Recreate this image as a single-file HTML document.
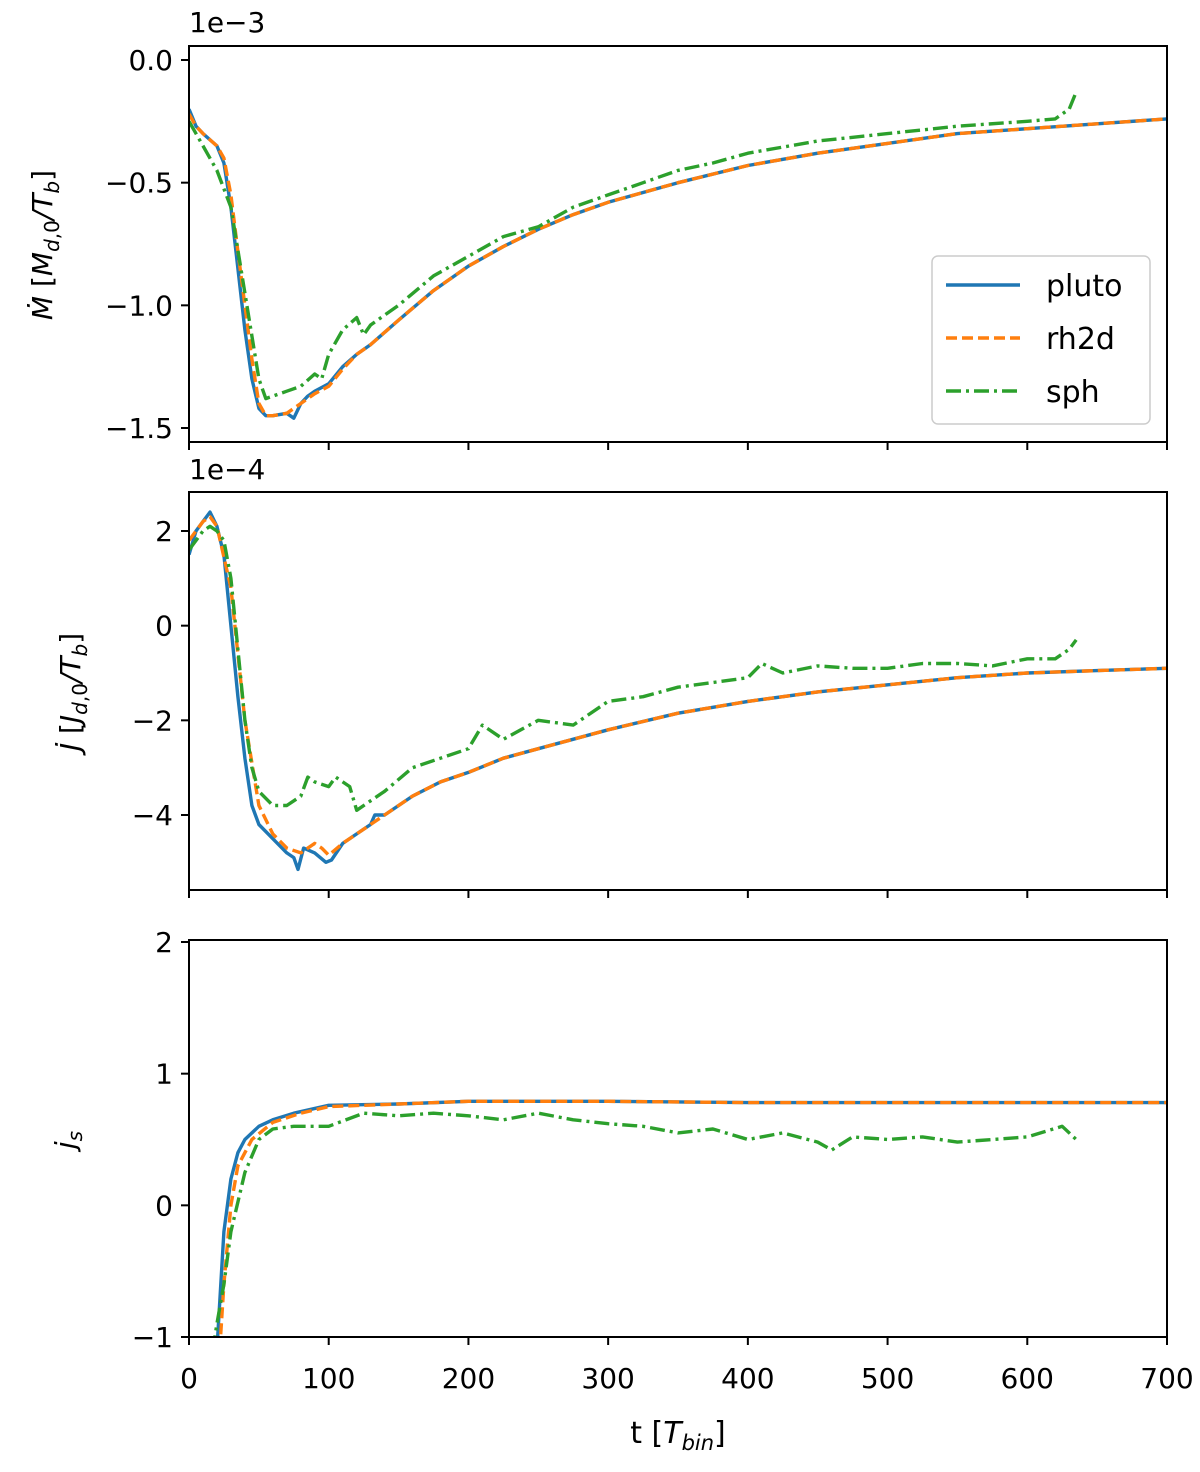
<!DOCTYPE html>
<html><head><meta charset="utf-8">
<style>
html,body{margin:0;padding:0;background:#fff;width:1200px;height:1472px;overflow:hidden;}
svg{display:block;font-family:"DejaVu Sans","Liberation Sans",sans-serif;}
</style></head>
<body>
<svg id="fig" width="1200" height="1472" viewBox="0 0 1200 1472" xmlns="http://www.w3.org/2000/svg">
 <text x="189" y="32" font-size="28">1e−3</text>
 <text x="189" y="479" font-size="28">1e−4</text>
 <text transform="translate(52,245) rotate(-90)" font-size="28" text-anchor="middle"><tspan font-style="italic">Ṁ</tspan> [<tspan font-style="italic">M</tspan><tspan font-size="20" dy="7"><tspan font-style="italic">d</tspan>,0</tspan><tspan dy="-7" font-style="italic">/T</tspan><tspan font-size="20" dy="7" font-style="italic">b</tspan><tspan dy="-7">]</tspan></text>
 <text transform="translate(80,692) rotate(-90)" font-size="28" text-anchor="middle"><tspan font-style="italic">J̇</tspan> [<tspan font-style="italic">J</tspan><tspan font-size="20" dy="7"><tspan font-style="italic">d</tspan>,0</tspan><tspan dy="-7" font-style="italic">/T</tspan><tspan font-size="20" dy="7" font-style="italic">b</tspan><tspan dy="-7">]</tspan></text>
 <text transform="translate(75,1140) rotate(-90)" font-size="28" text-anchor="middle"><tspan font-style="italic">j</tspan><tspan font-size="20" dy="7" font-style="italic">s</tspan></text>
 <text x="678" y="1443" font-size="30" text-anchor="middle">t [<tspan font-style="italic">T</tspan><tspan font-size="21" dy="7" font-style="italic">bin</tspan><tspan dy="-7">]</tspan></text>
</svg>
<script>
// ---- data ----
const p1PlutoT=[0,5,10,20,25,30,35,40,45,50,55,60,70,75,80,85,90,100,110,120,130,150,175,200,225,250,275,300,350,400,450,500,550,600,650,700];
const p1PlutoV=[-0.2,-0.27,-0.3,-0.35,-0.42,-0.6,-0.85,-1.1,-1.3,-1.42,-1.45,-1.45,-1.44,-1.46,-1.4,-1.37,-1.35,-1.32,-1.25,-1.2,-1.16,-1.06,-0.94,-0.84,-0.76,-0.69,-0.63,-0.58,-0.5,-0.43,-0.38,-0.34,-0.3,-0.28,-0.26,-0.24];
const p1Rh2dT=[0,5,10,20,25,30,35,40,45,50,55,60,70,80,90,100,110,120,130,150,175,200,225,250,275,300,350,400,450,500,550,600,650,700];
const p1Rh2dV=[-0.22,-0.27,-0.3,-0.35,-0.4,-0.55,-0.78,-1.0,-1.22,-1.4,-1.45,-1.45,-1.44,-1.4,-1.36,-1.33,-1.26,-1.2,-1.16,-1.06,-0.94,-0.84,-0.76,-0.69,-0.63,-0.58,-0.5,-0.43,-0.38,-0.34,-0.3,-0.28,-0.26,-0.24];
const p1SphT=[0,10,20,30,40,50,55,60,70,80,90,95,100,110,120,125,130,150,175,200,225,250,275,300,325,350,375,400,450,500,550,600,620,630,635];
const p1SphV=[-0.25,-0.35,-0.45,-0.6,-0.95,-1.3,-1.38,-1.37,-1.35,-1.33,-1.28,-1.3,-1.2,-1.1,-1.05,-1.12,-1.08,-1.0,-0.88,-0.8,-0.72,-0.68,-0.6,-0.55,-0.5,-0.45,-0.42,-0.38,-0.33,-0.3,-0.27,-0.25,-0.24,-0.2,-0.13];

const p2PlutoT=[0,5,10,15,20,25,30,35,40,45,50,60,70,75,78,82,90,98,102,110,120,130,133,140,160,180,200,225,250,300,350,400,450,500,550,600,650,700];
const p2PlutoV=[1.5,2.0,2.2,2.4,2.1,1.5,0,-1.5,-2.8,-3.8,-4.2,-4.5,-4.8,-4.9,-5.15,-4.7,-4.8,-5.0,-4.95,-4.6,-4.4,-4.2,-4.0,-4.0,-3.6,-3.3,-3.1,-2.8,-2.6,-2.2,-1.85,-1.6,-1.4,-1.25,-1.1,-1.0,-0.95,-0.9];
const p2Rh2dT=[0,10,15,20,30,40,50,60,70,80,90,95,100,110,120,130,140,160,180,200,225,250,300,350,400,450,500,550,600,650,700];
const p2Rh2dV=[1.8,2.2,2.3,2.1,0.8,-2.0,-3.8,-4.4,-4.7,-4.8,-4.6,-4.7,-4.85,-4.6,-4.4,-4.2,-4.0,-3.6,-3.3,-3.1,-2.8,-2.6,-2.2,-1.85,-1.6,-1.4,-1.25,-1.1,-1.0,-0.95,-0.9];
const p2SphT=[0,5,10,15,20,25,30,35,40,45,50,60,70,80,85,90,100,105,115,120,130,140,160,180,200,210,225,250,275,300,325,350,375,400,410,425,450,475,500,525,550,575,600,620,630,635];
const p2SphV=[1.6,1.8,2.0,2.1,2.0,1.8,1.0,-0.5,-2.0,-3.0,-3.5,-3.8,-3.8,-3.6,-3.2,-3.3,-3.4,-3.2,-3.4,-3.9,-3.7,-3.5,-3.0,-2.8,-2.6,-2.1,-2.4,-2.0,-2.1,-1.6,-1.5,-1.3,-1.2,-1.1,-0.8,-1.0,-0.85,-0.9,-0.9,-0.8,-0.8,-0.85,-0.7,-0.7,-0.5,-0.3];

const p3PlutoT=[20,25,30,35,40,50,60,75,100,150,200,300,400,500,600,700];
const p3PlutoV=[-1.1,-0.2,0.2,0.4,0.5,0.6,0.65,0.7,0.76,0.77,0.79,0.79,0.78,0.78,0.78,0.78];
const p3Rh2dT=[22,25,30,35,45,60,80,100,150,200,300,400,500,600,700];
const p3Rh2dV=[-1.1,-0.6,0,0.3,0.5,0.63,0.7,0.75,0.77,0.79,0.79,0.78,0.78,0.78,0.78];
const p3SphT=[17,20,25,30,40,50,60,75,100,125,150,175,200,225,250,275,300,325,350,375,400,425,450,460,475,500,525,550,575,600,625,635];
const p3SphV=[-1.1,-0.9,-0.6,-0.2,0.25,0.5,0.58,0.6,0.6,0.7,0.68,0.7,0.68,0.65,0.7,0.65,0.62,0.6,0.55,0.58,0.5,0.55,0.48,0.42,0.52,0.5,0.52,0.48,0.5,0.52,0.6,0.5];

const xTicks=[0,100,200,300,400,500,600,700];
const p1Ticks=[0,-0.5,-1.0,-1.5];
const p1TickLabels=["0.0","\u22120.5","\u22121.0","\u22121.5"];
const p2Ticks=[2,0,-2,-4];
const p2TickLabels=["2","0","\u22122","\u22124"];
const p3Ticks=[2,1,0,-1];
const p3TickLabels=["2","1","0","\u22121"];

// ---- layout ----
const NS="http://www.w3.org/2000/svg";
const svg=document.getElementById('fig');
const L=189,R=1167;
const xs=t=>L+(t/700)*(R-L);
const panels=[
 {top:46,bot:442,y0:0,py0:60,y1:-1.5,py1:428,ticks:p1Ticks,labels:p1TickLabels,
  series:[[p1PlutoT,p1PlutoV],[p1Rh2dT,p1Rh2dV],[p1SphT,p1SphV]],name:'mdot'},
 {top:492,bot:890,y0:2,py0:531,y1:-4,py1:815,ticks:p2Ticks,labels:p2TickLabels,
  series:[[p2PlutoT,p2PlutoV],[p2Rh2dT,p2Rh2dV],[p2SphT,p2SphV]],name:'jdot'},
 {top:940,bot:1337,y0:2,py0:942,y1:-1,py1:1337,ticks:p3Ticks,labels:p3TickLabels,
  series:[[p3PlutoT,p3PlutoV],[p3Rh2dT,p3Rh2dV],[p3SphT,p3SphV]],name:'js'}
];
const colors=['#1f77b4','#ff7f0e','#2ca02c'];
const dashes=[null,'11,5','15,5,3,5'];
const snames=['pluto','rh2d','sph'];
function el(tag,attrs,parent){const e=document.createElementNS(NS,tag);for(const k in attrs)e.setAttribute(k,attrs[k]);(parent||svg).appendChild(e);return e;}

const defs=el('defs',{});
panels.forEach((p,i)=>{
  const ys=v=>p.py0+(v-p.y0)/(p.y1-p.y0)*(p.py1-p.py0);
  const cp=el('clipPath',{id:'clip'+i},defs);
  el('rect',{x:L,y:p.top,width:R-L,height:p.bot-p.top},cp);
  const g=el('g',{});
  
  
  const sg=el('g',{'clip-path':'url(#clip'+i+')'},g);
  p.series.forEach((s,j)=>{
    const d=s[0].map((t,k)=>(k?'L':'M')+xs(t).toFixed(1)+','+ys(s[1][k]).toFixed(1)).join('');
    const path=el('path',{d:d,fill:'none',stroke:colors[j],'stroke-width':3.4,'stroke-linejoin':'round'},sg);
    if(dashes[j])path.setAttribute('stroke-dasharray',dashes[j]);
    
    
  });
  el('rect',{x:L,y:p.top,width:R-L,height:p.bot-p.top,fill:'none',stroke:'#000','stroke-width':2},g);
  p.ticks.forEach((v,k)=>{
    const y=ys(v);
    el('line',{x1:L-8,x2:L,y1:y,y2:y,stroke:'#000','stroke-width':2},g);
    const tx=el('text',{x:L-16,y:y+10,'font-size':28,'text-anchor':'end'},g);
    tx.textContent=p.labels[k];
    
    
  });
  xTicks.forEach(t=>{
    el('line',{x1:xs(t),x2:xs(t),y1:p.bot,y2:p.bot+8,stroke:'#000','stroke-width':2},g);
    if(i===2){
      const tx=el('text',{x:xs(t),y:1388,'font-size':28,'text-anchor':'middle'},g);
      tx.textContent=t;
      
      
    }
  });
});

// legend
const lg=el('g',{});


el('rect',{x:932,y:256,width:218,height:168,rx:6,fill:'#fff','fill-opacity':0.85,stroke:'#ccc','stroke-width':1.5},lg);
snames.forEach((n,j)=>{
  const y=285+53*j;
  const ln=el('line',{x1:946,x2:1020,y1:y,y2:y,stroke:colors[j],'stroke-width':3.4},lg);
  if(dashes[j])ln.setAttribute('stroke-dasharray',dashes[j]);
  const tx=el('text',{x:1046,y:y+11,'font-size':30},lg);
  tx.textContent=n;
  
  
});
</script>
</body></html>
